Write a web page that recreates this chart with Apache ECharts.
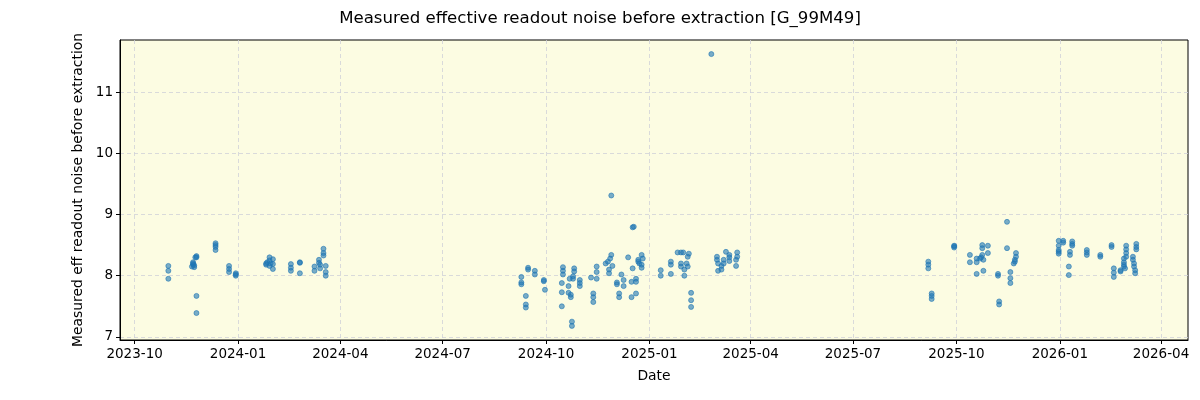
<!DOCTYPE html>
<html>
<head>
<meta charset="utf-8">
<script src="https://cdn.jsdelivr.net/npm/echarts@6/dist/echarts.min.js"></script>
<style>
  html, body { margin: 0; padding: 0; background: #fff; }
  #chartMain { width: 1200px; height: 400px; }
</style>
</head>
<body>
<div id="chartMain"></div>
<script>
var chartTitle = 'Measured effective readout noise before extraction [G_99M49]';
var yName = 'Measured eff readout noise before extraction';
var xName = 'Date';

// tick positions
var dateTicks = ['2023-10-01','2024-01-01','2024-04-01','2024-07-01','2024-10-01','2025-01-01',
                 '2025-04-01','2025-07-01','2025-10-01','2026-01-01','2026-04-01'];
var noiseTicks = [7, 8, 9, 10, 11];
var dateRange = ['2023-09-18', '2026-04-25'];
var noiseRange = [6.95, 11.85];

// observations, one array per season: [date, noise]
var season1 = [
  ['2023-10-31',8.16],['2023-10-31',8.08],['2023-10-31',7.95],
  ['2023-11-21',8.15],['2023-11-22',8.18],['2023-11-22',8.2],['2023-11-23',8.17],['2023-11-23',8.14],['2023-11-22',8.22],
  ['2023-11-24',8.3],['2023-11-25',8.32],['2023-11-25',8.3],
  ['2023-11-25',7.67],['2023-11-25',7.39],
  ['2023-12-12',8.53],['2023-12-12',8.5],['2023-12-12',8.47],['2023-12-12',8.42],
  ['2023-12-24',8.16],['2023-12-24',8.11],['2023-12-24',8.06],
  ['2023-12-30',8.04],['2023-12-30',8.0],['2023-12-30',8.02],
  ['2024-01-26',8.18],['2024-01-26',8.2],['2024-01-27',8.22],['2024-01-29',8.3],['2024-01-29',8.25],['2024-01-29',8.16],
  ['2024-01-30',8.2],['2024-02-01',8.27],['2024-02-01',8.19],['2024-02-01',8.11],
  ['2024-02-17',8.19],['2024-02-17',8.13],['2024-02-17',8.08],
  ['2024-02-25',8.21],['2024-02-25',8.22],['2024-02-25',8.04],
  ['2024-03-09',8.15],['2024-03-09',8.08],['2024-03-13',8.26],['2024-03-13',8.21],['2024-03-14',8.12],['2024-03-14',8.18],
  ['2024-03-17',8.44],['2024-03-17',8.37],['2024-03-17',8.33],['2024-03-19',8.16],['2024-03-19',8.06],['2024-03-19',8.0]
];
var season2 = [
  ['2024-09-09',7.98],['2024-09-09',7.89],['2024-09-09',7.86],['2024-09-13',7.67],['2024-09-13',7.53],['2024-09-13',7.48],
  ['2024-09-15',8.13],['2024-09-15',8.1],['2024-09-21',8.08],['2024-09-21',8.02],
  ['2024-09-29',7.91],['2024-09-29',7.93],['2024-09-30',7.77],
  ['2024-10-15',7.88],['2024-10-15',7.73],['2024-10-15',7.5],['2024-10-16',8.14],['2024-10-16',8.08],['2024-10-16',8.02],
  ['2024-10-21',7.83],['2024-10-22',7.95],['2024-10-21',7.72],['2024-10-23',7.65],['2024-10-23',7.69],['2024-10-24',7.25],['2024-10-24',7.18],
  ['2024-10-26',8.12],['2024-10-26',8.07],['2024-10-25',7.99],['2024-10-25',7.95],
  ['2024-10-31',7.93],['2024-10-31',7.88],['2024-10-31',7.83],
  ['2024-11-10',7.97],['2024-11-12',7.71],['2024-11-12',7.65],['2024-11-12',7.57],
  ['2024-11-15',8.15],['2024-11-15',8.06],['2024-11-15',7.95],
  ['2024-11-23',8.2],['2024-11-25',8.23],['2024-11-26',8.1],['2024-11-26',8.04],['2024-11-27',8.28],['2024-11-28',8.34],
  ['2024-11-29',8.16],['2024-11-28',9.31],
  ['2024-12-03',7.89],['2024-12-03',7.86],['2024-12-05',7.71],['2024-12-05',7.65],['2024-12-07',8.02],['2024-12-09',7.93],['2024-12-09',7.83],
  ['2024-12-13',8.3],['2024-12-17',8.79],['2024-12-18',8.8],['2024-12-17',8.12],['2024-12-16',7.9],['2024-12-16',7.65],
  ['2024-12-20',7.95],['2024-12-20',7.71],['2024-12-20',7.9],
  ['2024-12-22',8.23],['2024-12-23',8.2],['2024-12-22',8.26],['2024-12-25',8.34],['2024-12-26',8.28],['2024-12-25',8.18],['2024-12-25',8.13]
];
var season3 = [
  ['2025-01-11',8.09],['2025-01-11',8.0],
  ['2025-01-20',8.23],['2025-01-20',8.18],['2025-01-20',8.03],
  ['2025-01-26',8.38],['2025-01-29',8.38],['2025-01-31',8.38],['2025-02-05',8.36],['2025-02-04',8.31],
  ['2025-01-29',8.2],['2025-01-29',8.15],['2025-02-01',8.1],['2025-02-01',8.0],['2025-02-03',8.2],['2025-02-04',8.15],
  ['2025-02-07',7.72],['2025-02-07',7.6],['2025-02-07',7.49],
  ['2025-02-25',11.62],
  ['2025-03-02',8.31],['2025-03-02',8.26],['2025-03-03',8.2],['2025-03-03',8.08],['2025-03-06',8.16],['2025-03-06',8.1],
  ['2025-03-08',8.26],['2025-03-08',8.2],['2025-03-10',8.39],['2025-03-13',8.34],['2025-03-13',8.3],['2025-03-13',8.24],
  ['2025-03-19',8.26],['2025-03-19',8.16],['2025-03-20',8.38],['2025-03-20',8.31]
];
var season4 = [
  ['2025-09-06',8.23],['2025-09-06',8.18],['2025-09-06',8.12],
  ['2025-09-09',7.71],['2025-09-09',7.67],['2025-09-09',7.62],
  ['2025-09-29',8.49],['2025-09-29',8.46],['2025-09-29',8.48],
  ['2025-10-13',8.34],['2025-10-13',8.22],
  ['2025-10-19',8.28],['2025-10-19',8.22],['2025-10-19',8.03],
  ['2025-10-22',8.28],['2025-10-24',8.34],['2025-10-24',8.5],['2025-10-24',8.45],['2025-10-25',8.26],['2025-10-25',8.08],['2025-10-23',8.3],
  ['2025-10-29',8.49],['2025-10-29',8.37],
  ['2025-11-07',8.03],['2025-11-07',8.0],['2025-11-08',7.58],['2025-11-08',7.53],
  ['2025-11-15',8.88],['2025-11-15',8.45],
  ['2025-11-18',8.06],['2025-11-18',7.96],['2025-11-18',7.88],
  ['2025-11-23',8.37],['2025-11-23',8.31],['2025-11-22',8.26],['2025-11-21',8.2],['2025-11-22',8.23]
];
var season5 = [
  ['2025-12-31',8.57],['2025-12-31',8.49],['2025-12-31',8.42],['2025-12-31',8.39],['2025-12-31',8.36],
  ['2026-01-04',8.57],['2026-01-04',8.54],
  ['2026-01-09',8.15],['2026-01-09',8.01],
  ['2026-01-10',8.39],['2026-01-10',8.34],
  ['2026-01-12',8.56],['2026-01-12',8.52],['2026-01-12',8.49],
  ['2026-01-25',8.42],['2026-01-25',8.38],['2026-01-25',8.34],
  ['2026-02-06',8.34],['2026-02-06',8.31],
  ['2026-02-16',8.5],['2026-02-16',8.47],
  ['2026-02-18',8.12],['2026-02-18',8.05],['2026-02-18',7.98],
  ['2026-02-24',8.09],['2026-02-24',8.07],
  ['2026-03-01',8.49],['2026-03-01',8.43],['2026-03-01',8.37],['2026-03-01',8.31],
  ['2026-02-27',8.28],['2026-02-27',8.22],['2026-02-27',8.18],['2026-02-27',8.15],['2026-02-28',8.12],
  ['2026-03-07',8.31],['2026-03-07',8.26],['2026-03-08',8.2],['2026-03-08',8.15],['2026-03-09',8.09],['2026-03-09',8.04],
  ['2026-03-10',8.52],['2026-03-10',8.47],['2026-03-10',8.43]
];

// dates -> timestamps for a plain value axis
function toTime(s) { return new Date(s + 'T00:00:00Z').getTime(); }

var myChart = echarts.init(document.getElementById('chartMain'));
var allPoints = season1.concat(season2, season3, season4, season5).map(function (p) {
  return [toTime(p[0]), p[1]];
});
var tickTimes = dateTicks.map(toTime);

var fontFam = 'DejaVu Sans';
var gridLine = { show: true, lineStyle: { color: '#cfd0d8', type: [4, 3], width: 0.8 } };

var option = {
  backgroundColor: '#ffffff',
  animation: false,
  textStyle: { fontFamily: fontFam },
  title: {
    text: chartTitle, left: 'center', top: 5,
    textStyle: { fontFamily: fontFam, fontSize: 16.6, fontWeight: 'normal', color: '#000' }
  },
  grid: { left: 120, right: 12, top: 40, bottom: 60, show: true, backgroundColor: '#fcfce2', borderColor: '#000', borderWidth: 1 },
  xAxis: {
    type: 'value',
    min: toTime(dateRange[0]), max: toTime(dateRange[1]),
    name: xName, nameLocation: 'middle', nameGap: 29,
    nameTextStyle: { fontSize: 13.9, color: '#000', fontFamily: fontFam },
    axisLine: { show: true, onZero: false, lineStyle: { color: '#000', width: 1 } },
    axisTick: { show: true, length: 4, inside: false, lineStyle: { color: '#000' }, customValues: tickTimes },
    axisLabel: {
      customValues: tickTimes, margin: 7, fontSize: 13.5, color: '#000', fontFamily: fontFam,
      formatter: function (v) {
        var d = new Date(v);
        var m = d.getUTCMonth() + 1;
        return d.getUTCFullYear() + '-' + (m < 10 ? '0' + m : m);
      }
    },
    splitLine: gridLine
  },
  yAxis: {
    type: 'value',
    min: noiseRange[0], max: noiseRange[1],
    name: yName, nameLocation: 'middle', nameGap: 34,
    nameTextStyle: { fontSize: 13.9, color: '#000', fontFamily: fontFam },
    axisLine: { show: true, lineStyle: { color: '#000', width: 1 } },
    axisTick: { show: true, length: 4, lineStyle: { color: '#000' }, customValues: noiseTicks },
    axisLabel: { customValues: noiseTicks, margin: 7, fontSize: 13.5, color: '#000', fontFamily: fontFam },
    splitLine: gridLine
  },
  series: [{
    type: 'scatter',
    data: allPoints,
    symbolSize: 5,
    itemStyle: { color: '#1f77b4', borderColor: '#1f77b4', borderWidth: 1, opacity: 0.6 }
  }]
};

myChart.setOption(option);
</script>
</body>
</html>
